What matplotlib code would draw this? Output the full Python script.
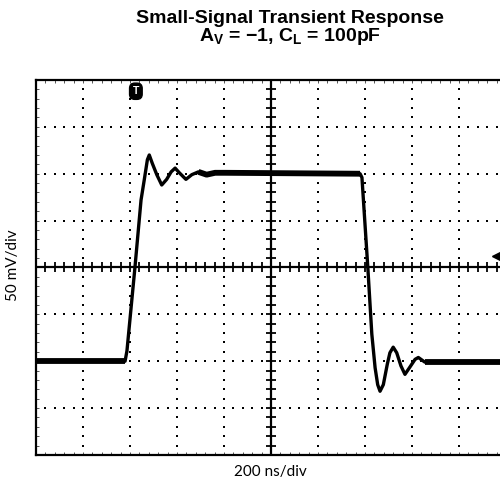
""" Small-signal transient response scope trace """

import numpy as np
import matplotlib.pyplot as plt

plt.rcParams['mathtext.fontset'] = 'custom'
plt.rcParams['mathtext.rm'] = 'Liberation Sans'
plt.rcParams['mathtext.bf'] = 'Liberation Sans:bold'

# scope trace: time (ns), output (mV, centre = 0)
time_ns = [0, 379, 387, 421, 447, 461, 474, 482, 495, 514, 535, 556, 575,
           592, 610, 638, 663, 691, 726, 762, 804, 1379, 1387, 1412, 1429,
           1443, 1454, 1464, 1478, 1495, 1506, 1520, 1535, 1553, 1570,
           1589, 1613, 1627, 1655, 1698, 1826, 2000]
out_mv = [-100, -100, -89, 0, 72, 94, 115, 120, 111, 99, 88, 94, 102,
          106, 101, 94, 99, 102, 99, 101, 101, 100, 96, 0, -71,
          -107, -125, -132, -125, -103, -91, -85, -91, -105, -114,
          -107, -98, -96, -101, -101, -101, -101]

x_div = 200    # ns per division
y_div = 50     # mV per division
n_x = 10
n_y = 8
trigger_pos = (425, 188)
level_pos = (1962, 12)


def draw_graticule(ax):
    x_lo, x_hi = 0, n_x * x_div
    y_lo, y_hi = -n_y / 2 * y_div, n_y / 2 * y_div
    xs_minor = np.arange(x_lo, x_hi + 1, x_div / 5)
    ys_minor = np.arange(y_lo, y_hi + 1, y_div / 5)

    # dotted grid lines
    for k in range(1, n_x):
        if k == n_x // 2:
            continue
        ax.plot(np.full_like(ys_minor, k * x_div), ys_minor, 's',
                color='black', ms=1.6, mew=0)
    for k in range(1, n_y):
        if k == n_y // 2:
            continue
        v = y_lo + k * y_div
        ax.plot(xs_minor, np.full_like(xs_minor, v), 's',
                color='black', ms=1.6, mew=0)

    # centre cross with minor ticks
    ax.axvline(x_hi / 2, color='black', lw=1.6)
    ax.axhline(0, color='black', lw=1.6)
    ax.plot(np.full_like(ys_minor, x_hi / 2), ys_minor, '_',
            color='black', ms=6.5, mew=1.3)
    ax.plot(xs_minor, np.zeros_like(xs_minor), '|',
            color='black', ms=6.5, mew=1.3)

    ax.set_xlim(x_lo, x_hi)
    ax.set_ylim(y_lo, y_hi)
    ax.set_xticks(xs_minor)
    ax.set_yticks(ys_minor)
    ax.tick_params(direction='in', length=2.5, width=0.7, color='#555555',
                   labelbottom=False, labelleft=False,
                   top=True, right=True)
    for spine in ax.spines.values():
        spine.set_linewidth(1.6)


def main():
    fig = plt.figure(figsize=(5, 4.83), dpi=100)
    ax = fig.add_axes([0.072, 0.058, 0.94, 0.7764])

    draw_graticule(ax)
    ax.plot(time_ns, out_mv, color='black', lw=2.4, solid_joinstyle='round')
    # settled stretches are noisier, so they read thicker
    for lo, hi in [(0, 2), (17, 22), (38, 42)]:
        ax.plot(time_ns[lo:hi], out_mv[lo:hi], color='black', lw=4.2,
                solid_capstyle='butt')

    # trigger and level markers
    ax.text(trigger_pos[0], trigger_pos[1], 'T', color='white',
            fontsize=7.5, fontweight='bold', ha='center', va='center',
            family='Liberation Sans',
            bbox=dict(boxstyle='round,pad=0.3,rounding_size=0.5',
                      fc='black', ec='black'))
    ax.plot(level_pos[0], level_pos[1], '<', color='black', ms=7)

    fig.text(0.58, 0.962, 'Small-Signal Transient Response',
             ha='center', va='center', fontsize=14, fontweight='bold',
             family='Liberation Sans')
    fig.text(0.58, 0.924, r'$\mathbf{A_V}$ = $\mathbf{-}$1, $\mathbf{C_L}$ = 100pF',
             ha='center', va='center', fontsize=14, fontweight='bold',
             family='Liberation Sans')
    fig.text(0.54, 0.022, '200 ns/div', ha='center', va='center',
             fontsize=11, family='Lato')
    fig.text(0.026, 0.45, '50 mV/div', ha='center', va='center',
             rotation=90, fontsize=11, family='Lato')

    fig.savefig('out.png', dpi=100)


if __name__ == '__main__':
    main()
